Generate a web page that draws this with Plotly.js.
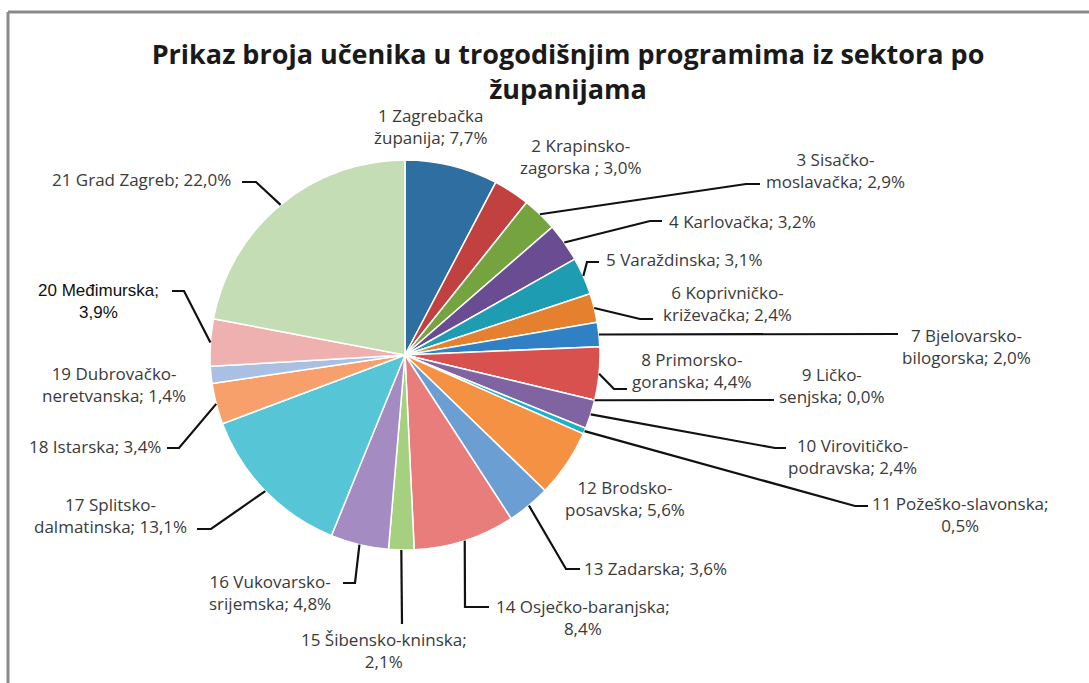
<!DOCTYPE html>
<html><head><meta charset="utf-8">
<script src="https://cdn.plot.ly/plotly-3.0.1.min.js"></script>
<style>html,body{margin:0;padding:0;background:#fff}#chart{width:1089px;height:683px}</style>
</head><body><div id="chart"></div>
<script>
// ---- data ----
const counties = ["1 Zagrebačka županija","2 Krapinsko-zagorska","3 Sisačko-moslavačka","4 Karlovačka","5 Varaždinska","6 Koprivničko-križevačka","7 Bjelovarsko-bilogorska","8 Primorsko-goranska","9 Ličko-senjska","10 Virovitičko-podravska","11 Požeško-slavonska","12 Brodsko-posavska","13 Zadarska","14 Osječko-baranjska","15 Šibensko-kninska","16 Vukovarsko-srijemska","17 Splitsko-dalmatinska","18 Istarska","19 Dubrovačko-neretvanska","20 Međimurska","21 Grad Zagreb"];
const shares = [7.7,3.0,2.9,3.2,3.1,2.4,2.0,4.4,0.0,2.4,0.5,5.6,3.6,8.4,2.1,4.8,13.1,3.4,1.4,3.9,22.0];
const labelLines = ["1 Zagrebačka<br>županija; 7,7%","2 Krapinsko-<br>zagorska ; 3,0%","3 Sisačko-<br>moslavačka; 2,9%","4 Karlovačka; 3,2%","5 Varaždinska; 3,1%","6 Koprivničko-<br>križevačka; 2,4%","7 Bjelovarsko-<br>bilogorska; 2,0%","8 Primorsko-<br>goranska; 4,4%","9 Ličko-<br>senjska; 0,0%","10 Virovitičko-<br>podravska; 2,4%","11 Požeško-slavonska;<br>0,5%","12 Brodsko-<br>posavska; 5,6%","13 Zadarska; 3,6%","14 Osječko-baranjska;<br>8,4%","15 Šibensko-kninska;<br>2,1%","16 Vukovarsko-<br>srijemska; 4,8%","17 Splitsko-<br>dalmatinska; 13,1%","18 Istarska; 3,4%","19 Dubrovačko-<br>neretvanska; 1,4%","20 Međimurska;<br>3,9%","21 Grad Zagreb; 22,0%"];
const sliceColors = ["#2F6EA0","#C0413F","#74A33F","#6A4C93","#1E9DB2","#E5802E","#3080C6","#D9514E","#9BBB59","#8064A2","#1BB1CA","#F59143","#6B9FD4","#E87D7B","#A4D07F","#A48BC2","#56C5D6","#F7A06B","#A9C0E2","#EFB1B0","#C4DDB4"];
const titleText = "Prikaz broja učenika u trogodišnjim programima iz sektora po<br>županijama";

// ---- layout placement (pixels) ----
const W = 1089, H = 683;
const pieCx = 405, pieCy = 355, pieR = 195;
// label centre positions
const labelPos = [[430,127],[581,156],[836,170],[742,221],[684,259],[728,303],[966,346],[692,370],[832,385],[852,456],[960,514],[625,498],[655,568],[583,617],[384,650],[270,592],[110,515],[95,446],[114,384],[98,302],[141,179]];
// leader polyline: elbow then end (null = no leader)
const leaders = [null,null,[[746,184],[760,184]],[[650,221],[662,221]],[[587,262],[599,262]],[[640,319],[653,319]],[[898,334]],[[614,389],[627,389]],[[774,400]],[[775,448],[786,448]],[[855,506],[868,506]],null,[[566,569],[580,569]],[[465,607],[489,607]],[[402,624]],[[355,583],[343,583]],[[211,529],[197,529]],[[179,448],[167,448]],null,[[184,291],[172,291]],[[256,182],[242,182]]];

const px = x => x / W, py = y => 1 - y / H;

const total = shares.reduce((a,b)=>a+b,0);
let cum = 0;
const shapes = [];
const annotations = [];
shares.forEach((v,i) => {
  const mid = (cum + v/2) / total * 2 * Math.PI;
  cum += v;
  const sx = pieCx + pieR * Math.sin(mid), sy = pieCy - pieR * Math.cos(mid);
  if (leaders[i]) {
    let d = `M${px(sx)},${py(sy)}`;
    leaders[i].forEach(p => { d += ` L${px(p[0])},${py(p[1])}`; });
    shapes.push({type:'path', xref:'paper', yref:'paper', path:d, line:{color:'#111', width:2.2}});
  }
  const special = i === 19;
  annotations.push({
    xref:'paper', yref:'paper', x: px(labelPos[i][0]), y: py(labelPos[i][1]),
    xanchor:'center', yanchor:'middle', showarrow:false, align:'center',
    text: labelLines[i],
    font: special ? {family:'Liberation Sans, Arial, sans-serif', size:17, color:'#111'}
                  : {family:'Open Sans, sans-serif', size:17, color:'#3a3a3a'}
  });
});
// frame
shapes.push({type:'line', xref:'paper', yref:'paper', x0:px(8), x1:1, y0:py(12), y1:py(12), line:{color:'#8a8a8a', width:3}});
shapes.push({type:'line', xref:'paper', yref:'paper', x0:px(8), x1:px(8), y0:py(12), y1:0, line:{color:'#8a8a8a', width:3}});

const trace = {
  type:'pie', labels: counties, values: shares, sort:false, direction:'clockwise', rotation:0,
  marker:{colors: sliceColors, line:{color:'#ffffff', width:1.5}},
  textinfo:'none', hoverinfo:'label+percent',
  domain:{x:[px(pieCx-pieR), px(pieCx+pieR)], y:[py(pieCy+pieR), py(pieCy-pieR)]}
};
const layout = {
  width:W, height:H, margin:{l:0,r:0,t:0,b:0}, showlegend:false,
  paper_bgcolor:'#fff',
  title:{text:titleText, x:px(568), xanchor:'center', y:py(64), yanchor:'top', yref:'paper',
         font:{family:'Open Sans, sans-serif', size:27, color:'#1a1a1a', weight:'bold'}},
  shapes, annotations
};
Plotly.newPlot('chart', [trace], layout, {displayModeBar:false, staticPlot:true});
</script></body></html>
